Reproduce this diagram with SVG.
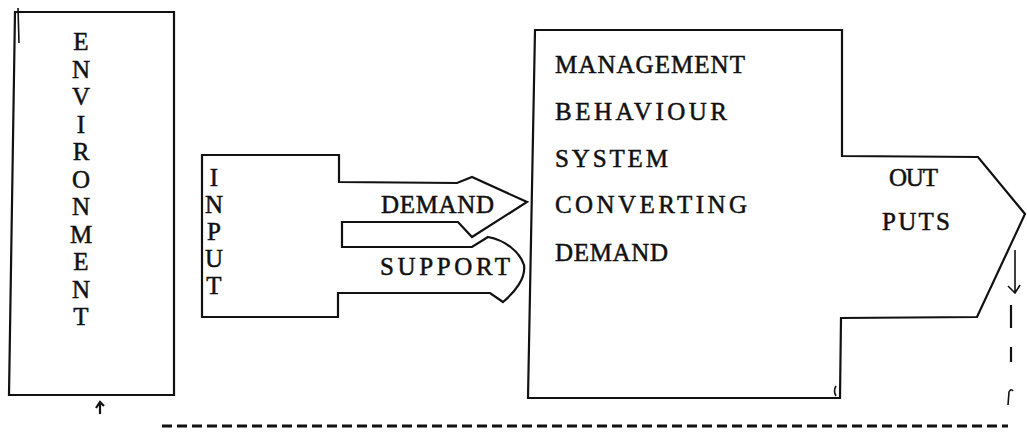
<svg xmlns="http://www.w3.org/2000/svg" width="1027" height="436" viewBox="0 0 1027 436">
<style>
  .ln{fill:none;stroke:#111;stroke-width:2.2;stroke-linejoin:miter}
  .thin{fill:none;stroke:#111;stroke-width:1.6}
  .dash{fill:none;stroke:#111;stroke-width:2.8;stroke-dasharray:10 5}
  .t{font-family:"Liberation Serif","Times New Roman",serif;font-size:25px;fill:#111;stroke:#111;stroke-width:0.5}
  .c{text-anchor:middle}
</style>
<rect width="1027" height="436" fill="#fff"/>
<g id="environment">
  <path class="ln" d="M15,12 L174,12 L174,395 L9,395 Z"/>
  <path class="thin" d="M18,8 L19,43"/>
  <text class="t c" x="81" y="50">E</text>
  <text class="t c" x="81" y="78">N</text>
  <text class="t c" x="81" y="105">V</text>
  <text class="t c" x="81" y="133">I</text>
  <text class="t c" x="81" y="160">R</text>
  <text class="t c" x="81" y="188">O</text>
  <text class="t c" x="81" y="215">N</text>
  <text class="t c" x="81" y="243">M</text>
  <text class="t c" x="81" y="270">E</text>
  <text class="t c" x="81" y="298">N</text>
  <text class="t c" x="81" y="325">T</text>
</g>
<g id="input">
  <path class="ln" d="M202,155 L339,155 L339,182 L457,183 L472,177 L527,202 L472,237 L458,222 L342,222 L342,247 L472,247 L488,237 C505,240 520,252 524,265 C526,278 515,292 503,302 L490,293 L338,293 L338,317 L202,317 Z"/>
  <text class="t c" x="214" y="186">I</text>
  <text class="t c" x="214" y="213">N</text>
  <text class="t c" x="214" y="240">P</text>
  <text class="t c" x="214" y="267">U</text>
  <text class="t c" x="214" y="294">T</text>
  <text class="t" x="381" y="213" textLength="113" lengthAdjust="spacing">DEMAND</text>
  <text class="t" x="380" y="275" textLength="130" lengthAdjust="spacing">SUPPORT</text>
</g>
<g id="system">
  <path class="ln" d="M535,30 L842,30 L842,156 L978,157 L1025,214 L977,317 L841,318 L840,398 L528,398 Z"/>
  <path class="thin" d="M836,386 Q833,391 836,396"/>
  <text class="t" x="555" y="73" textLength="190" lengthAdjust="spacing">MANAGEMENT</text>
  <text class="t" x="555" y="120" textLength="172" lengthAdjust="spacing">BEHAVIOUR</text>
  <text class="t" x="555" y="167" textLength="113" lengthAdjust="spacing">SYSTEM</text>
  <text class="t" x="555" y="213" textLength="192" lengthAdjust="spacing">CONVERTING</text>
  <text class="t" x="555" y="261" textLength="113" lengthAdjust="spacing">DEMAND</text>
  <text class="t" x="889" y="186" textLength="49" lengthAdjust="spacing">OUT</text>
  <text class="t" x="882" y="230" textLength="68" lengthAdjust="spacing">PUTS</text>
</g>
<g id="connectors">
  <path class="thin" d="M1015,250 L1015,293 M1008,286 L1015,293 L1020,285"/>
  <path class="ln" d="M1011,305 L1011,328 M1011,347 L1011,362"/>
  <path class="thin" d="M1008,405 L1009,392 Q1011,388 1013,391"/>
  <path class="dash" d="M162,426 L1008,426"/>
  <path class="ln" d="M100,414 L100,404 M96,408 L100,402 L104,406"/>
</g>
</svg>
